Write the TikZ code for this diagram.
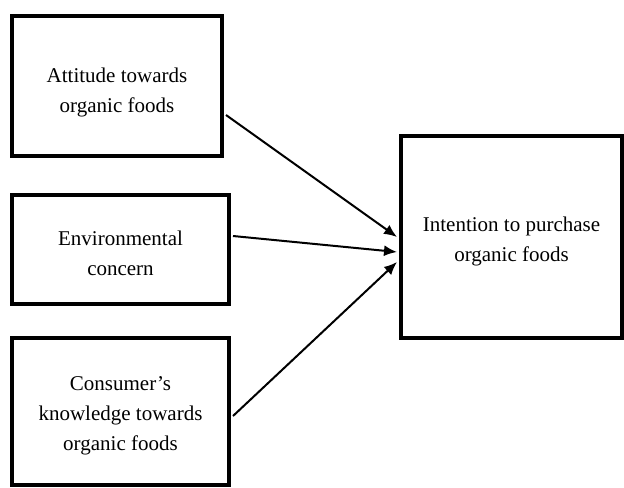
\documentclass[tikz,border=0pt]{standalone}
\usepackage{fontspec}
\setmainfont{Liberation Serif}
\usetikzlibrary{arrows.meta}
\begin{document}
\begin{tikzpicture}[x=0.5pt,y=-0.5pt,
  box/.style={draw=black, line width=2pt, rectangle, inner sep=0pt, fill=white},
  txt/.style={align=center, font=\fontsize{10.5pt}{15pt}\selectfont, inner sep=0pt},
  arr/.style={line width=1pt, -{Latex[length=6.5pt,width=5.5pt]}}]
\useasboundingbox (0,0) rectangle (624,487);
\fill[white] (0,0) rectangle (624,487);
\node[box, minimum width=105pt, minimum height=70pt] (b1) at (117,86) {};
\node[box, minimum width=108.5pt, minimum height=54.5pt] (b2) at (120.5,249.5) {};
\node[box, minimum width=108.5pt, minimum height=73.5pt] (b3) at (120.5,411.5) {};
\node[box, minimum width=110.5pt, minimum height=101pt] (r) at (511.5,237) {};
\node[txt] (t1) at ([yshift=-3pt]b1.center) {Attitude towards\\organic foods};
\node[txt] (t2) at ([yshift=-1.75pt]b2.center) {Environmental\\concern};
\node[txt] (t3) at ([yshift=-2.25pt]b3.center) {Consumer’s\\knowledge towards\\organic foods};
\node[txt] (tr) at ([yshift=-2pt]r.center) {Intention to purchase\\organic foods};
\draw[arr] ([xshift=1pt,yshift=-14.5pt]b1.east) -- ([xshift=-1pt]r.west);
\draw[arr] ([xshift=1pt,yshift=6.75pt]b2.east) -- ([xshift=-1pt,yshift=-7.5pt]r.west);
\draw[arr] ([xshift=1pt,yshift=-2.25pt]b3.east) -- ([xshift=-1pt,yshift=-12.5pt]r.west);
\end{tikzpicture}
\end{document}
